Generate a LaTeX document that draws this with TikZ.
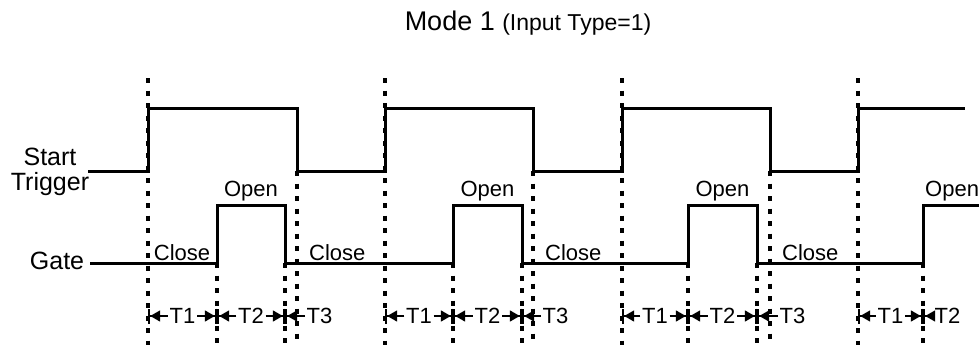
\documentclass[tikz,border=0pt]{standalone}
\usepackage{fontspec}
\setmainfont{Liberation Sans}
\usetikzlibrary{arrows.meta}

\newcommand{\fsz}[1]{\fontsize{#1}{#1}\selectfont}

\begin{document}
\begin{tikzpicture}[
        x=1pt, y=-1pt,
        wave/.style={line width=3pt, line join=miter},
        guide/.style={line width=3.2pt, dash pattern=on 5pt off 7.5pt},
        dimarr/.style={line width=1.7pt,
            -{Triangle[length=10pt,width=11pt]Bar[width=15pt,line width=2.2pt]}},
        sig/.style={font=\fsz{25}, inner sep=0pt, anchor=base},
        lvl/.style={font=\fsz{22}, inner sep=0pt, anchor=base},
        tlab/.style={font=\fsz{22}, inner sep=1.5pt}
    ]
    \useasboundingbox (0,0) rectangle (979,345);

    % title
    \node[anchor=base, inner sep=0pt, font=\fsz{27}] (title) at (528,31)
        {Mode 1 {\fsz{23}(Input Type=1)}};

    % signal names
    \node[sig] (start) at (50,165) {Start};
    \node[sig] (trig)  at (50,190) {Trigger};
    \node[sig] (gate)  at (57,269) {Gate};

    % waveforms
    \draw[wave] (88,171) -- (148,171) -- (148,108) -- (297,108) -- (297,171)
        -- (385,171) -- (385,108) -- (533,108) -- (533,171)
        -- (622,171) -- (622,108) -- (770,108) -- (770,171)
        -- (858,171) -- (858,108) -- (965,108);
    \draw[wave] (90,263) -- (217,263) -- (217,205) -- (285,205) -- (285,263)
        -- (453,263) -- (453,205) -- (522,205) -- (522,263)
        -- (688,263) -- (688,205) -- (757,205) -- (757,263)
        -- (923,263) -- (923,205) -- (979,205);

    % full cycles
    \foreach \i/\up/\on/\off/\dn in {1/148/217/285/297, 2/385/453/522/533, 3/622/688/757/770} {
        \draw[guide] (\up,78) -- (\up,345);
        \draw[guide] (\on,263) -- (\on,345);
        \draw[guide] (\off,263) -- (\off,345);
        \draw[guide] (\dn,171) -- (\dn,345);
        \coordinate (u\i) at (\up,316);
        \coordinate (n\i) at (\on,316);
        \coordinate (f\i) at (\off,316);
        \node[lvl] (open\i) at ({(\on+\off)/2},196) {Open};
        \node[lvl, anchor=base west] (close\i) at (\dn+12,260) {Close};
        \node[tlab] (ta\i) at ({(\up+\on)/2},316) {T1};
        \node[tlab] (tb\i) at ({(\on+\off)/2},316) {T2};
        \node[tlab, anchor=west] (tc\i) at (\dn+8,316) {T3};
        \draw[dimarr] (ta\i.west) -- (u\i);
        \draw[dimarr] (ta\i.east) -- (n\i);
        \draw[dimarr] (tb\i.west) -- (n\i);
        \draw[dimarr] (tb\i.east) -- (f\i);
        \draw[dimarr] (tc\i.west) -- (f\i);
    }

    % last cycle, cut off
    \draw[guide] (858,78) -- (858,345);
    \draw[guide] (923,263) -- (923,345);
    \coordinate (u4) at (858,316);
    \coordinate (n4) at (923,316);
    \node[lvl] (close0) at (182,260) {Close};
    \node[lvl, anchor=base west] (open4) at (925,196) {Open};
    \node[tlab] (ta4) at (890.5,316) {T1};
    \node[tlab, anchor=west] (tb4) at (933,316) {T2};
    \draw[dimarr] (ta4.west) -- (u4);
    \draw[dimarr] (ta4.east) -- (n4);
    \draw[dimarr] (tb4.west) -- (n4);
\end{tikzpicture}
\end{document}
